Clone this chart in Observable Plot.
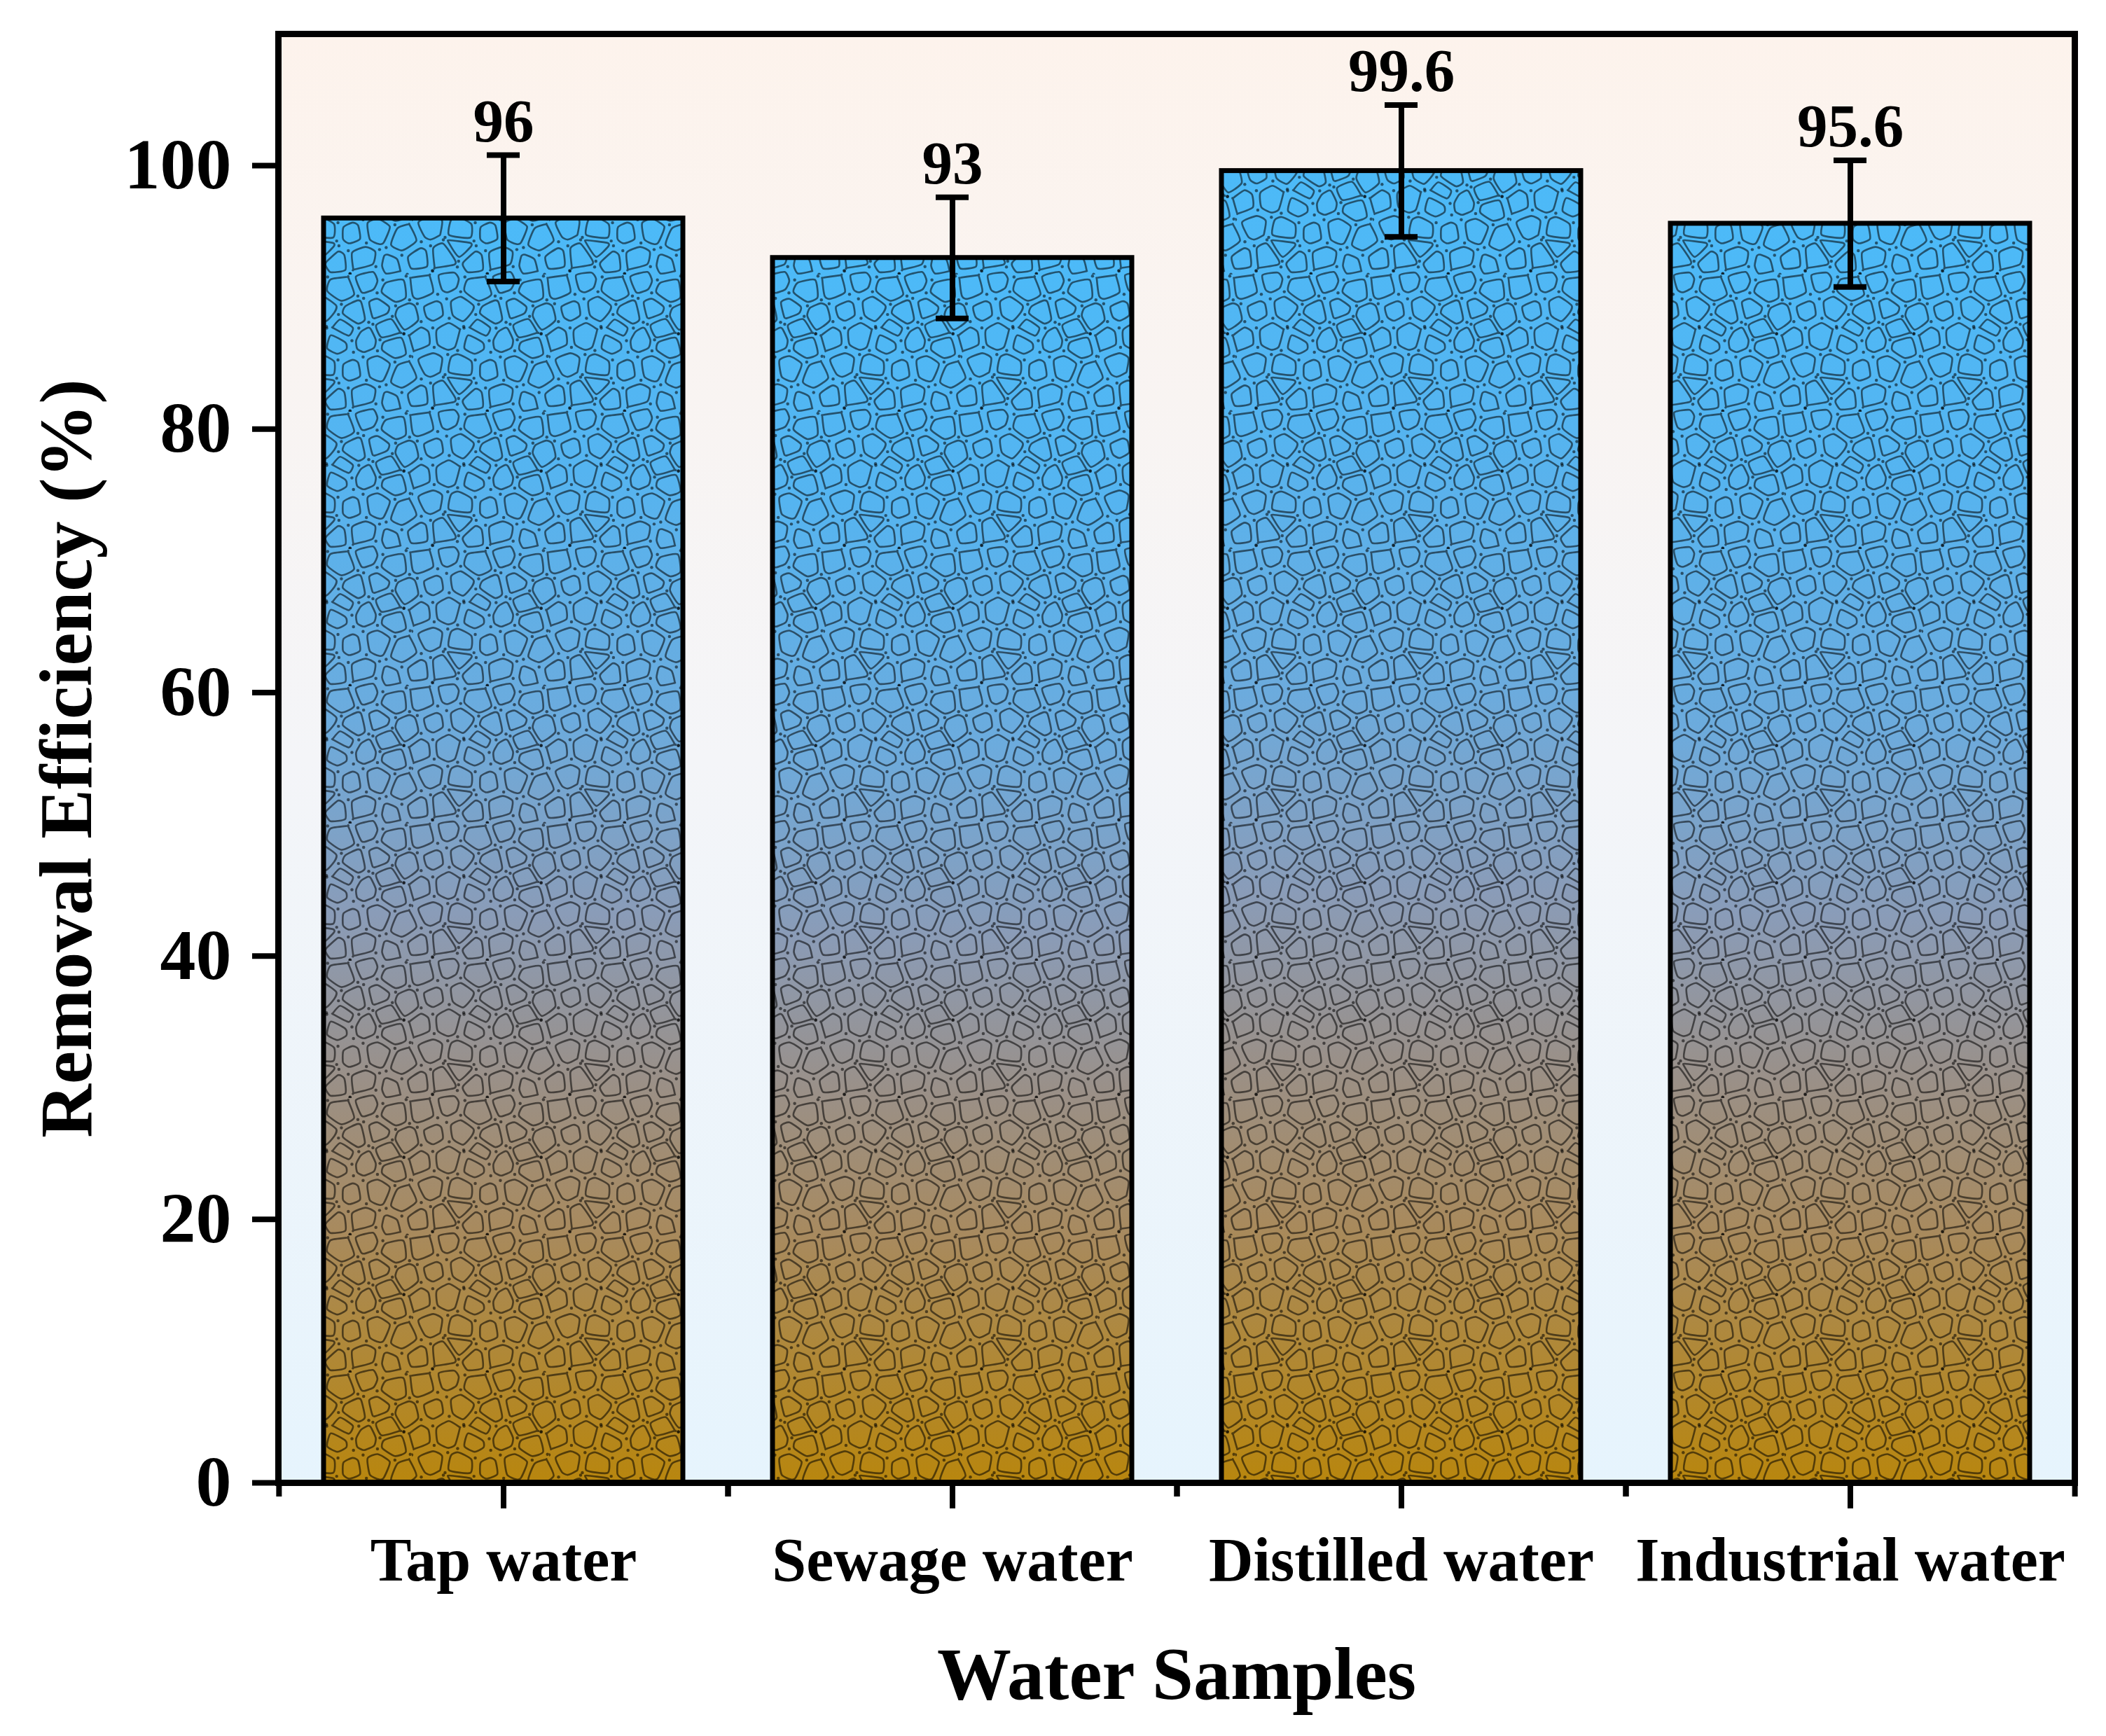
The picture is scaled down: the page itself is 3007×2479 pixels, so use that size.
<!DOCTYPE html>
<html>
<head>
<meta charset="utf-8">
<script src="https://cdn.jsdelivr.net/npm/d3@7"></script>
<script src="https://cdn.jsdelivr.net/npm/@observablehq/plot@0.6"></script>
<style>
  html, body { margin: 0; padding: 0; background: #ffffff; }
  #chart svg { display: block; max-width: none !important; }
</style>
</head>
<body>
<div id="chart"></div>
<script>
// ---- data ----
const categories = ["Tap water", "Sewage water", "Distilled water", "Industrial water"];
const efficiency = [96, 93, 99.6, 95.6];
const errors = [4.8, 4.6, 5.0, 4.8];
const valueLabels = ["96", "93", "99.6", "95.6"];
const yTicks = [0, 20, 40, 60, 80, 100];
const xTitle = "Water Samples";
const yTitle = "Removal Efficiency (%)";

const data = categories.map((c, i) => ({cat: c, v: efficiency[i], e: errors[i], label: valueLabels[i]}));

// ---- layout ----
const W = 3007, H = 2479;
const mL = 397, mR = 45, mT = 48, mB = 362;
const step = (W - mL - mR) / categories.length;
const bandW = step * 0.8;
const capW = 47;
const capInset = (bandW - capW) / 2;
const serif = "Liberation Serif, Times New Roman, Times, serif";

const chart = Plot.plot({
  width: W,
  height: H,
  marginLeft: mL,
  marginRight: mR,
  marginTop: mT,
  marginBottom: mB,
  style: {fontFamily: serif, fontWeight: "bold", background: "white", color: "black"},
  x: {domain: categories, paddingInner: 0.2, paddingOuter: 0.1, label: null},
  y: {domain: [0, 110], label: null},
  marks: [
    Plot.frame({fill: "url(#bgGrad)", stroke: null}),
    Plot.barY(data, {x: "cat", y: "v", fill: "url(#barGrad)"}),
    Plot.barY(data, {x: "cat", y: "v", fill: "url(#stone)", stroke: "black", strokeWidth: 7}),
    Plot.ruleX(data, {x: "cat", y1: d => d.v - d.e, y2: d => d.v + d.e, stroke: "black", strokeWidth: 8}),
    Plot.tickY(data, {x: "cat", y: d => d.v + d.e, stroke: "black", strokeWidth: 8, insetLeft: capInset, insetRight: capInset}),
    Plot.tickY(data, {x: "cat", y: d => d.v - d.e, stroke: "black", strokeWidth: 8, insetLeft: capInset, insetRight: capInset}),
    Plot.text(data, {x: "cat", y: d => d.v + d.e, text: "label", dy: -20, lineAnchor: "bottom", fontSize: 87, fontWeight: "bold", fill: "black"}),
    Plot.axisY({ticks: yTicks, tickSize: 37, tickPadding: 30, fontSize: 102, fontWeight: "bold", strokeWidth: 8, label: null, anchor: "left"}),
    Plot.axisX({tickSize: 37, tickPadding: 40, fontSize: 88, fontWeight: "bold", strokeWidth: 8, label: null}),
    Plot.axisX({tickSize: 20, dx: -step / 2, tickFormat: () => "", strokeWidth: 8, label: null}),
    Plot.axisX({tickSize: 20, dx: step / 2, tickFormat: () => "", strokeWidth: 8, label: null}),
    Plot.text([xTitle], {frameAnchor: "bottom", dy: 308, lineAnchor: "bottom", textAnchor: "middle", fontSize: 106, fontWeight: "bold", fill: "black"}),
    Plot.text([yTitle], {frameAnchor: "left", rotate: -90, dx: -268, lineAnchor: "bottom", textAnchor: "middle", fontSize: 106, fontWeight: "bold", fill: "black"}),
    Plot.frame({stroke: "black", strokeWidth: 9})
  ]
});

// ---- defs: gradients and stone texture ----
const svg = d3.select(chart);
const defs = svg.insert("defs", ":first-child");

const bg = defs.append("linearGradient").attr("id", "bgGrad").attr("x1", 0).attr("y1", 0).attr("x2", 0).attr("y2", 1);
[[0, "#fdf3ec"], [0.5, "#f4f5f8"], [1, "#e6f4fd"]].forEach(([o, c]) =>
  bg.append("stop").attr("offset", o).attr("stop-color", c));

const bgBar = defs.append("linearGradient").attr("id", "barGrad").attr("x1", 0).attr("y1", 0).attr("x2", 0).attr("y2", 1);
[[0, "#4cbaf8"], [0.2, "#55b4f0"], [0.4, "#6cabdd"], [0.55, "#8a9cb8"], [0.68, "#9a9088"], [0.8, "#a88a5e"], [1, "#b8860e"]].forEach(([o, c]) =>
  bgBar.append("stop").attr("offset", o).attr("stop-color", c));

// stone mosaic tile (decorative texture, fixed seed points)
const T = 140;
const seeds = [
  [10,12],[38,6],[66,14],[95,4],[122,16],
  [22,38],[52,34],[80,42],[108,36],[134,44],
  [8,64],[36,62],[64,70],[94,66],[120,72],[72,54],[116,56],
  [20,92],[50,96],[78,98],[106,94],[132,104],
  [6,124],[34,122],[62,128],[90,126],[118,132],[48,112]
];
const shrink = [0.72, 0.62, 0.78, 0.66, 0.74, 0.58, 0.7];
const pts = [];
for (const [px, py] of seeds) for (const ox of [-T, 0, T]) for (const oy of [-T, 0, T]) pts.push([px + ox, py + oy]);
const delaunay = d3.Delaunay.from(pts);
const vor = delaunay.voronoi([-T, -T, 2 * T, 2 * T]);
const S = 1.4;
const pat = defs.append("pattern").attr("id", "stone").attr("patternUnits", "userSpaceOnUse")
  .attr("width", T).attr("height", T).attr("patternTransform", `scale(${S})`);
const line = d3.line().curve(d3.curveCardinalClosed.tension(0.4));
const cellPaths = [];
seeds.forEach((s, i) => {
  const poly = vor.cellPolygon(i * 9 + 4);
  if (!poly) return;
  const ring = poly.slice(0, -1);
  const c = d3.polygonCentroid(ring);
  const k = shrink[i % shrink.length];
  const shr = ring.map(p => [c[0] + (p[0] - c[0]) * k, c[1] + (p[1] - c[1]) * k]);
  cellPaths.push(line(shr));
});
for (const ox of [-T, 0, T]) for (const oy of [-T, 0, T]) {
  const g = pat.append("g").attr("transform", `translate(${ox},${oy})`);
  cellPaths.forEach(p => g.append("path").attr("d", p)
    .attr("fill", "none").attr("stroke", "rgba(0,0,0,0.55)").attr("stroke-width", 1.9));
}
const cc = vor.circumcenters;
for (let j = 0; j < cc.length / 2; j++) {
  const x = cc[2 * j], y = cc[2 * j + 1];
  if (x >= 0 && x < T && y >= 0 && y < T) {
    pat.append("circle").attr("cx", x).attr("cy", y).attr("r", 1.6).attr("fill", "rgba(0,0,0,0.55)");
  }
}

document.getElementById("chart").appendChild(chart);
</script>
</body>
</html>
